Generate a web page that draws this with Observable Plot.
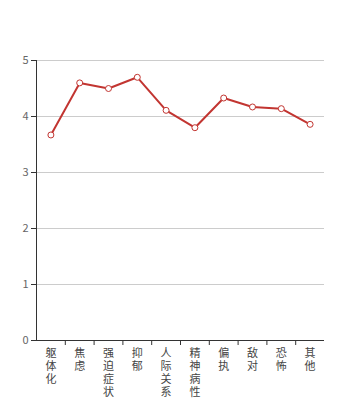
<!DOCTYPE html>
<html><head><meta charset="utf-8">
<script src="https://cdn.jsdelivr.net/npm/d3@7"></script>
<script src="https://cdn.jsdelivr.net/npm/@observablehq/plot@0.6"></script>
<style>body{margin:0;background:#fff;}</style>
</head><body><div id="chart"></div>
<script>
const categories = ["躯体化","焦虑","强迫症状","抑郁","人际关系敏感","精神病性","偏执","敌对","恐怖","其他"];
const values = [3.67, 4.60, 4.50, 4.70, 4.11, 3.80, 4.33, 4.17, 4.14, 3.86];
const yTicks = [0,1,2,3,4,5];
const xBoundaries = [0.5,1.5,2.5,3.5,4.5,5.5,6.5,7.5,8.5];

const data = categories.map((c,i)=>({i, c, v: values[i]}));

const chart = Plot.plot({
  width: 360, height: 400,
  marginTop: 60, marginBottom: 60, marginLeft: 36, marginRight: 36,
  style: {fontFamily: "'Noto Sans CJK SC', 'Noto Sans', sans-serif", background: "white"},
  x: {type: "linear", domain: [-0.5, 9.5], axis: null},
  y: {domain: [0, 5], axis: null},
  marks: [
    Plot.gridY(yTicks, {stroke: "#ccc", strokeOpacity: 1}),
    Plot.ruleX([-0.5], {stroke: "#333"}),
    Plot.ruleY([0], {stroke: "#333"}),
    Plot.axisY(yTicks, {tickSize: 5, tickPadding: 3, stroke: "#333", fill: "#666", fontSize: 11, tickFormat: d3.format("d"), label: null}),
    Plot.axisX(xBoundaries, {tickSize: 5, tickFormat: () => "", stroke: "#333", label: null}),
    Plot.line(data, {x: "i", y: "v", stroke: "#c23531", strokeWidth: 2}),
    Plot.dot(data, {x: "i", y: "v", r: 3, fill: "white", stroke: "#c23531", strokeWidth: 1}),
    Plot.text(data, {x: "i", y: 0, text: d => d.c.split("").join("\n"), dy: 7, lineAnchor: "top", fontSize: 11, lineHeight: 1.2, fill: "#444"})
  ]
});
document.getElementById("chart").appendChild(chart);
</script>
</body></html>
